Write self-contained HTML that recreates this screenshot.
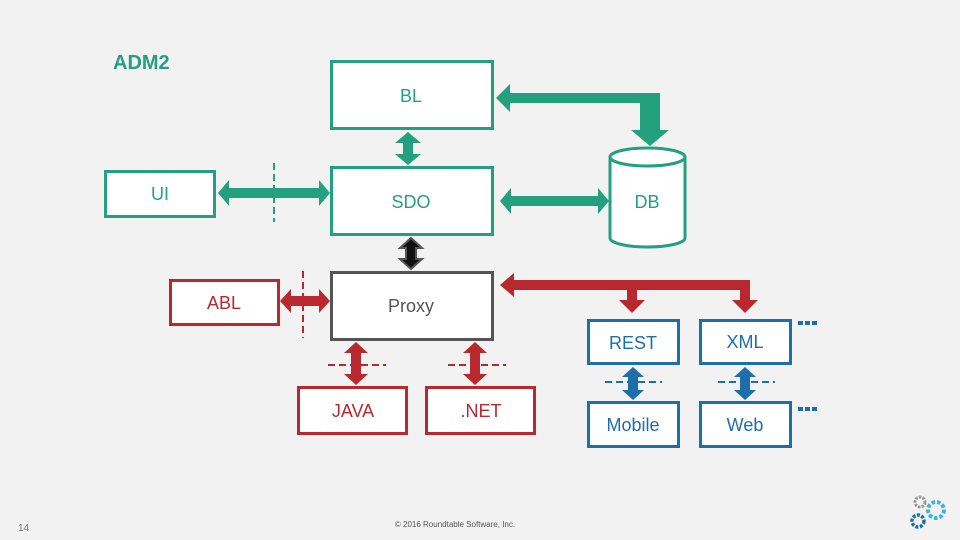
<!DOCTYPE html>
<html><head><meta charset="utf-8"><style>
html,body{margin:0;padding:0;background:#f2f2f2;}
svg{display:block;font-family:"Liberation Sans",sans-serif;}
</style></head><body>
<svg width="960" height="540" viewBox="0 0 960 540" xmlns="http://www.w3.org/2000/svg">
<rect width="960" height="540" fill="#f2f2f2"/>
<text x="113" y="69" font-size="20" font-weight="bold" fill="#23a07e">ADM2</text>

<!-- green boxes -->
<g fill="#fff" stroke="#23a07e" stroke-width="3">
<rect x="331.5" y="61.5" width="161" height="67"/>
<rect x="331.5" y="167.5" width="161" height="67"/>
<rect x="105.5" y="171.5" width="109" height="45"/>
<path d="M610 157 L610 238 A37.5 9 0 0 0 685 238 L685 157"/>
<ellipse cx="647.5" cy="157" rx="37.5" ry="9"/>
</g>
<g font-size="18" fill="#23a07e" text-anchor="middle">
<text x="411" y="102">BL</text>
<text x="411" y="208">SDO</text>
<text x="160" y="200">UI</text>
<text x="647" y="208">DB</text>
</g>

<!-- green arrows -->
<g fill="#23a07e">
<polygon points="218,193 229,180 229,188 319,188 319,180 330,193 319,206 319,198 229,198 229,206"/>
<polygon points="500,201 511,188 511,196 598,196 598,188 609,201 598,214 598,206 511,206 511,214"/>
<polygon points="408,132 421,143 413,143 413,154 421,154 408,165 395,154 403,154 403,143 395,143"/>
<polygon points="496,98 510,84 510,93 660,93 660,130 669,130 650,146 631,130 640,130 640,103 510,103 510,112"/>
</g>
<line x1="274" y1="163" x2="274" y2="222" stroke="#23a07e" stroke-width="2" stroke-dasharray="7,4"/>

<!-- SDO-Proxy black -->
<polygon points="411,238 422,248 416,248 416,259 422,259 411,269 400,259 406,259 406,248 400,248" fill="#111" stroke="#555" stroke-width="2"/>

<!-- Proxy -->
<rect x="331.5" y="272.5" width="161" height="67" fill="#fff" stroke="#555" stroke-width="3"/>
<text x="411" y="312" font-size="18" fill="#555" text-anchor="middle">Proxy</text>

<!-- red boxes -->
<g fill="#fff" stroke="#b8282e" stroke-width="3">
<rect x="170.5" y="280.5" width="108" height="44"/>
<rect x="298.5" y="387.5" width="108" height="46"/>
<rect x="426.5" y="387.5" width="108" height="46"/>
</g>
<g font-size="18" fill="#b8282e" text-anchor="middle">
<text x="224" y="309">ABL</text>
<text x="353" y="417">JAVA</text>
<text x="481" y="417">.NET</text>
</g>
<g fill="#b8282e">
<polygon points="280,301 291,289 291,296 319,296 319,289 330,301 319,313 319,306 291,306 291,313"/>
<polygon points="356,342 368,353 361,353 361,374 368,374 356,385 344,374 351,374 351,353 344,353"/>
<polygon points="475,342 487,353 480,353 480,374 487,374 475,385 463,374 470,374 470,353 463,353"/>
<polygon points="500,285 514,273 514,280 750,280 750,300 758,300 745,313 732,300 740,300 740,290 637,290 637,300 645,300 632,313 619,300 627,300 627,290 514,290 514,297"/>
</g>
<g stroke="#b8282e" stroke-width="2" stroke-dasharray="7,4">
<line x1="303" y1="271" x2="303" y2="338"/>
<line x1="328" y1="365" x2="386" y2="365"/>
<line x1="448" y1="365" x2="506" y2="365"/>
</g>

<!-- blue boxes -->
<g fill="#fff" stroke="#1e6eab" stroke-width="3">
<rect x="588.5" y="320.5" width="90" height="43"/>
<rect x="700.5" y="320.5" width="90" height="43"/>
<rect x="588.5" y="402.5" width="90" height="44"/>
<rect x="700.5" y="402.5" width="90" height="44"/>
</g>
<g font-size="18" fill="#1e6eab" text-anchor="middle">
<text x="633" y="349">REST</text>
<text x="745" y="348">XML</text>
<text x="633" y="431">Mobile</text>
<text x="745" y="431">Web</text>
</g>
<g fill="#1e6eab">
<polygon points="633,367 644,377 638,377 638,390 644,390 633,400 622,390 628,390 628,377 622,377"/>
<polygon points="745,367 756,377 750,377 750,390 756,390 745,400 734,390 740,390 740,377 734,377"/>
<rect x="798" y="321" width="5" height="4"/><rect x="805" y="321" width="5" height="4"/><rect x="812" y="321" width="5" height="4"/>
<rect x="798" y="407" width="5" height="4"/><rect x="805" y="407" width="5" height="4"/><rect x="812" y="407" width="5" height="4"/>
</g>
<g stroke="#1e6eab" stroke-width="2" stroke-dasharray="7,4">
<line x1="605" y1="382" x2="662" y2="382"/>
<line x1="718" y1="382" x2="775" y2="382"/>
</g>

<!-- footer -->
<text x="18" y="531" font-size="10" fill="#777">14</text>
<text x="455" y="527" font-size="8" fill="#555" text-anchor="middle">© 2016 Roundtable Software, Inc.</text>
<!-- gears -->
<circle cx="920" cy="502" r="5" fill="none" stroke="#999" stroke-width="3" stroke-dasharray="2.5,1.2"/>
<circle cx="936" cy="510" r="8" fill="none" stroke="#3fb0e0" stroke-width="4" stroke-dasharray="3.5,2"/>
<circle cx="918" cy="521" r="6" fill="none" stroke="#1e6eab" stroke-width="3.5" stroke-dasharray="3,1.5"/>
</svg>
</body></html>
